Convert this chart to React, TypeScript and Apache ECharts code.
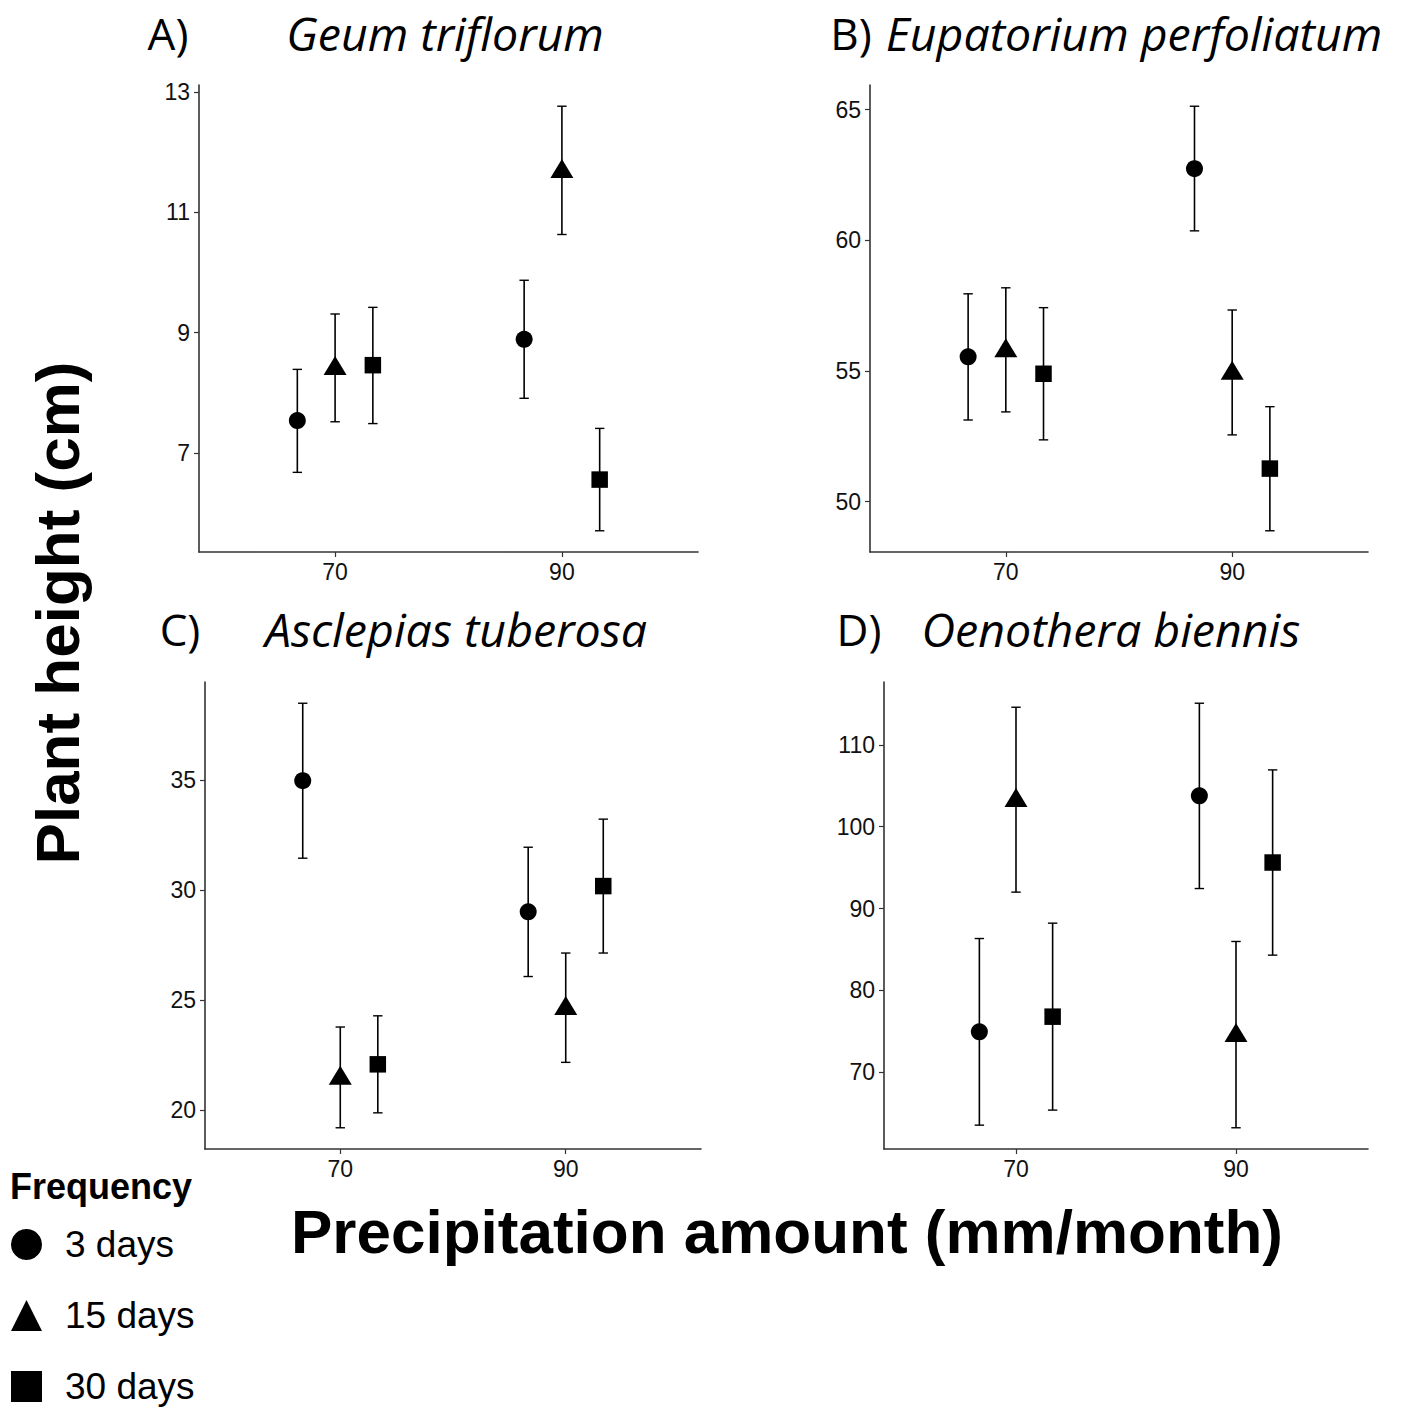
import React, { useEffect, useRef } from "react";
import * as echarts from "echarts";

// ---------- data ----------
const precipitationLevels = [70, 90];
const frequencyNames = ["3 days", "15 days", "30 days"];
const frequencySymbols = ["circle", "triangle", "rect"];
const panelLetters = ["A)", "B)", "C)", "D)"];
const speciesNames = ["Geum triflorum", "Eupatorium perfoliatum", "Asclepias tuberosa", "Oenothera biennis"];

// rows: frequency (3, 15, 30 days); columns: precipitation (70, 90)
const geumMean = [[7.54, 8.89], [8.42, 11.69], [8.46, 6.56]];
const geumLow = [[6.68, 7.91], [7.52, 10.63], [7.49, 5.71]];
const geumHigh = [[8.39, 9.87], [9.31, 12.76], [9.42, 7.41]];
const geumTicks = [7, 9, 11, 13];

const eupatoriumMean = [[55.54, 62.74], [55.8, 54.94], [54.89, 51.26]];
const eupatoriumLow = [[53.12, 60.36], [53.43, 52.55], [52.36, 48.88]];
const eupatoriumHigh = [[57.95, 65.13], [58.18, 57.33], [57.42, 53.63]];
const eupatoriumTicks = [50, 55, 60, 65];

const asclepiasMean = [[34.99, 29.02], [21.47, 24.65], [22.07, 30.19]];
const asclepiasLow = [[31.46, 26.07], [19.18, 22.16], [19.86, 27.14]];
const asclepiasHigh = [[38.52, 31.96], [23.77, 27.14], [24.28, 33.24]];
const asclepiasTicks = [20, 25, 30, 35];

const oenotheraMean = [[74.93, 103.77], [103.3, 74.58], [76.78, 95.62]];
const oenotheraLow = [[63.52, 92.44], [92.0, 63.2], [65.36, 84.3]];
const oenotheraHigh = [[86.33, 115.09], [114.6, 85.97], [88.21, 106.94]];
const oenotheraTicks = [70, 80, 90, 100, 110];

const xTicks = [70, 90];

// ---------- layout / style ----------
const DODGE = [-3.33, 0, 3.33];
const X_MIN = 58;
const X_MAX = 102;
const GRIDS = [
  { left: 199, top: 85, width: 499, height: 467 },
  { left: 870, top: 85, width: 498, height: 467 },
  { left: 205, top: 682, width: 496, height: 467 },
  { left: 884, top: 682, width: 484, height: 467 },
];
const TITLE_POS = [
  { lx: 168, nx: 445, y: 33 },
  { lx: 851, nx: 1134, y: 33 },
  { lx: 180, nx: 456, y: 629 },
  { lx: 859, nx: 1111, y: 629 },
];
const SYMBOL_SIZES: any[] = [17, [23, 19], 16.5];
const SYMBOL_OFFSETS: any[] = [[0, 0], [0, -2.2], [0, 0]];
const SANS = "'Liberation Sans', Arial, sans-serif";
const TITLE_FONT = "'Open Sans', Lato, sans-serif";

const panels = [
  { mean: geumMean, low: geumLow, high: geumHigh, ticks: geumTicks },
  { mean: eupatoriumMean, low: eupatoriumLow, high: eupatoriumHigh, ticks: eupatoriumTicks },
  { mean: asclepiasMean, low: asclepiasLow, high: asclepiasHigh, ticks: asclepiasTicks },
  { mean: oenotheraMean, low: oenotheraLow, high: oenotheraHigh, ticks: oenotheraTicks },
];

function buildOption() {
  const grid: any[] = [];
  const xAxis: any[] = [];
  const yAxis: any[] = [];
  const series: any[] = [];
  const graphic: any[] = [];

  panels.forEach((p, i) => {
    grid.push({ ...GRIDS[i], containLabel: false });
    const lows = p.low.flat();
    const highs = p.high.flat();
    const lo = Math.min(...lows);
    const hi = Math.max(...highs);
    const pad = (hi - lo) * 0.05;
    const axisLine = { show: true, onZero: false, lineStyle: { color: "#333", width: 1.6 } };
    const axisTick = { show: true, length: 5, lineStyle: { color: "#333", width: 1.2 } };
    const axisLabel = { color: "#111", fontSize: 23, fontFamily: SANS };
    xAxis.push({
      type: "value",
      gridIndex: i,
      min: X_MIN,
      max: X_MAX,
      splitLine: { show: false },
      axisLine,
      axisTick: { ...axisTick, customValues: xTicks },
      axisLabel: { ...axisLabel, margin: 8, customValues: xTicks },
    });
    yAxis.push({
      type: "value",
      gridIndex: i,
      min: lo - pad,
      max: hi + pad,
      splitLine: { show: false },
      axisLine,
      axisTick: { ...axisTick, customValues: p.ticks },
      axisLabel: { ...axisLabel, margin: 9, customValues: p.ticks },
    });

    const errData: any[] = [];
    frequencyNames.forEach((_, f) => {
      precipitationLevels.forEach((lvl, j) => {
        errData.push([lvl + DODGE[f], p.low[f][j], p.high[f][j]]);
      });
    });
    series.push({
      type: "custom",
      name: "error",
      xAxisIndex: i,
      yAxisIndex: i,
      z: 1,
      silent: true,
      data: errData,
      encode: { x: 0, y: [1, 2] },
      renderItem: (params: any, api: any) => {
        const x = api.value(0);
        const top = api.coord([x, api.value(2)]);
        const bot = api.coord([x, api.value(1)]);
        const hw = 4.7;
        const st = { stroke: "#000", lineWidth: 1.6 };
        const cs = { stroke: "#000", lineWidth: 1.4 };
        return {
          type: "group",
          children: [
            { type: "line", shape: { x1: top[0], y1: top[1], x2: bot[0], y2: bot[1] }, style: st },
            { type: "line", shape: { x1: top[0] - hw, y1: top[1], x2: top[0] + hw, y2: top[1] }, style: cs },
            { type: "line", shape: { x1: bot[0] - hw, y1: bot[1], x2: bot[0] + hw, y2: bot[1] }, style: cs },
          ],
        };
      },
    });

    frequencyNames.forEach((name, f) => {
      series.push({
        type: "scatter",
        name,
        xAxisIndex: i,
        yAxisIndex: i,
        z: 3,
        symbol: frequencySymbols[f],
        symbolSize: SYMBOL_SIZES[f],
        symbolOffset: SYMBOL_OFFSETS[f],
        itemStyle: { color: "#000", opacity: 1 },
        data: precipitationLevels.map((lvl, j) => [lvl + DODGE[f], p.mean[f][j]]),
      });
    });

    const tp = TITLE_POS[i];
    graphic.push({
      type: "text",
      x: tp.lx,
      y: tp.y,
      style: { text: panelLetters[i], fontFamily: TITLE_FONT, fontSize: 44, fill: "#000", align: "center", verticalAlign: "middle" },
    });
    graphic.push({
      type: "text",
      x: tp.nx,
      y: tp.y,
      style: {
        text: speciesNames[i],
        fontFamily: TITLE_FONT,
        fontStyle: "italic",
        fontSize: 46.5,
        fill: "#000",
        align: "center",
        verticalAlign: "middle",
      },
    });
  });

  graphic.push({
    type: "text",
    x: 57,
    y: 613,
    rotation: Math.PI / 2,
    style: { text: "Plant height (cm)", fontFamily: SANS, fontWeight: "bold", fontSize: 62, fill: "#000", align: "center", verticalAlign: "middle" },
  });
  graphic.push({
    type: "text",
    x: 787,
    y: 1231,
    style: {
      text: "Precipitation amount (mm/month)",
      fontFamily: SANS,
      fontWeight: "bold",
      fontSize: 62,
      fill: "#000",
      align: "center",
      verticalAlign: "middle",
    },
  });
  graphic.push({
    type: "text",
    x: 10,
    y: 1186,
    style: { text: "Frequency", fontFamily: SANS, fontWeight: "bold", fontSize: 36, fill: "#000", align: "left", verticalAlign: "middle" },
  });

  return {
    animation: false,
    backgroundColor: "#fff",
    grid,
    xAxis,
    yAxis,
    series,
    graphic,
    legend: {
      orient: "vertical",
      left: 11,
      top: 1226,
      padding: 0,
      itemWidth: 31,
      itemHeight: 31,
      itemGap: 34,
      selectedMode: false,
      data: frequencyNames.map((n, f) => ({ name: n, icon: frequencySymbols[f] })),
      itemStyle: { color: "#000" },
      textStyle: { fontSize: 37, fontFamily: SANS, color: "#000", lineHeight: 37, padding: [0, 0, 0, 18] },
    },
  };
}

export default function App() {
  const ref = useRef<HTMLDivElement>(null);
  useEffect(() => {
    if (!ref.current) return;
    const chart = echarts.init(ref.current, undefined, { renderer: "svg" });
    chart.setOption(buildOption() as any);
    return () => chart.dispose();
  }, []);
  return (
    <div
      ref={ref}
      style={{ position: "absolute", left: 0, top: 0, width: 1401, height: 1412, background: "#fff" }}
    />
  );
}
